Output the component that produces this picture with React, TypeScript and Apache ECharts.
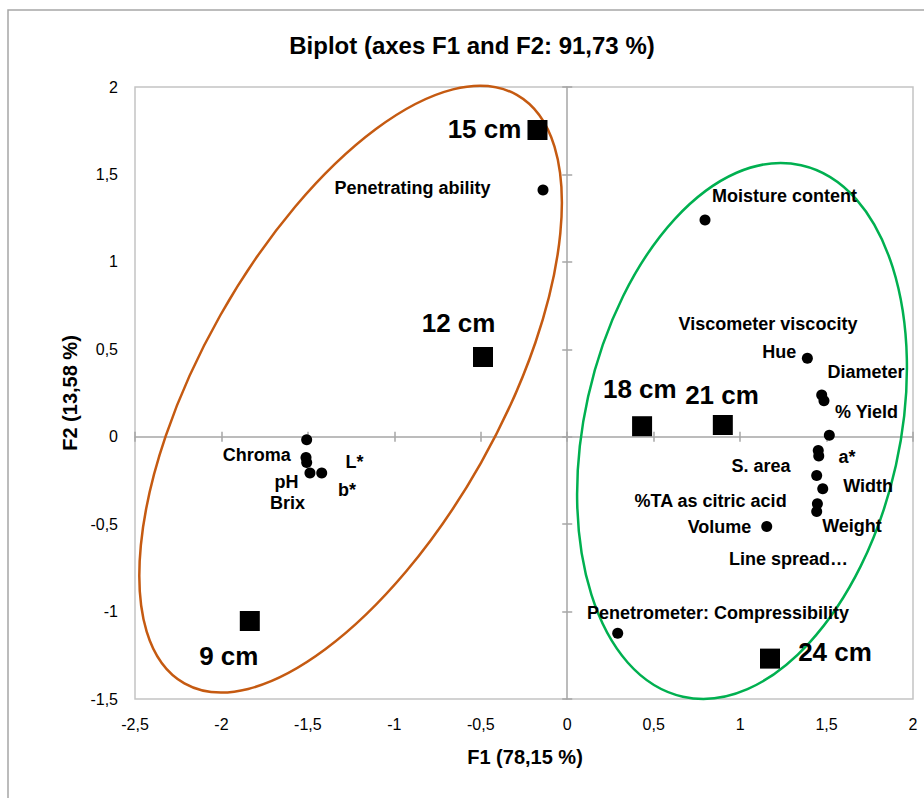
import { useEffect, useRef } from "react";
import * as echarts from "echarts";

// ---- Data ----
const variableNames = [
  "Penetrating ability",
  "Moisture content",
  "Viscometer viscocity",
  "Hue",
  "Diameter",
  "% Yield",
  "a*",
  "Line spread…",
  "S. area",
  "Width",
  "%TA as citric acid",
  "Weight",
  "Volume",
  "Penetrometer: Compressibility",
  "L*",
  "Chroma",
  "pH",
  "Brix",
  "b*",
];
const variableF1 = [
  -0.14, 0.797, 1.472, 1.389, 1.485, 1.516, 1.452, 1.455, 1.443, 1.478, 1.447,
  1.443, 1.154, 0.292, -1.507, -1.511, -1.507, -1.488, -1.42,
];
const variableF2 = [
  1.411, 1.24, 0.239, 0.449, 0.206, 0.009, -0.079, -0.11, -0.222, -0.298,
  -0.384, -0.428, -0.514, -1.124, -0.018, -0.119, -0.148, -0.207, -0.207,
];

const treatmentNames = ["9 cm", "12 cm", "15 cm", "18 cm", "21 cm", "24 cm"];
const treatmentF1 = [-1.836, -0.487, -0.172, 0.433, 0.9, 1.173];
const treatmentF2 = [-1.054, 0.456, 1.754, 0.06, 0.067, -1.269];

// Group ellipses (centre, semi-axes in axis units, tilt in degrees)
const ellipseCenterF1 = [-1.253, 1.011];
const ellipseCenterF2 = [0.272, 0.033];
const ellipseSemiMajor = [1.943, 1.566];
const ellipseSemiMinor = [0.861, 0.907];
const ellipseTilt = [29.45, 12.56];

const titleText = "Biplot (axes F1 and F2: 91,73 %)";
const xAxisTitle = "F1 (78,15 %)";
const yAxisTitle = "F2 (13,58 %)";

// ---- Layout / style (kept apart from the data) ----
const variableLabelOffsets: Record<string, [number, number]> = {
  "Penetrating ability": [-130.5, -2],
  "Moisture content": [79.5, -24.3],
  "Viscometer viscocity": [-53.7, -71],
  Hue: [-28, -6.3],
  Diameter: [42, -29],
  "% Yield": [37.2, -23.6],
  "a*": [28.7, 6],
  "Line spread…": [-30.2, 103.3],
  "S. area": [-55.7, -9.7],
  Width: [45.3, -3.3],
  "%TA as citric acid": [-106.8, -3.3],
  Weight: [35.3, 14.3],
  Volume: [-47.2, 0],
  "Penetrometer: Compressibility": [100.3, -20.6],
  "L*": [47.8, 21.7],
  Chroma: [-49.3, -2.7],
  pH: [-20.2, 19],
  Brix: [-22.5, 30.3],
  "b*": [25.3, 17],
};
const treatmentLabelOffsets: Record<string, [number, number]> = {
  "9 cm": [-21, 35],
  "12 cm": [-24.5, -34],
  "15 cm": [-53, -1.5],
  "18 cm": [-2.3, -37],
  "21 cm": [-0.8, -30],
  "24 cm": [65, -7],
};
const ellipseColors = ["#c55a11", "#00b050"];

const FONT = "'Liberation Sans', Arial, Helvetica, sans-serif";
const fmt = (v: number) => String(v).replace(".", ",");

const GRID = { left: 135, top: 87, width: 778, height: 612 };
const zeroLine = { color: "#a6a6a6", width: 1.5 };

function buildOption() {
  const xBase = { type: "value", min: -2.5, max: 2, interval: 0.5 };
  const yBase = { type: "value", min: -1.5, max: 2, interval: 0.5 };
  return {
    animation: false,
    backgroundColor: "#ffffff",
    grid: {
      ...GRID,
      show: true,
      borderColor: "#c4c4c4",
      borderWidth: 1.5,
      backgroundColor: "transparent",
    },
    xAxis: [
      {
        ...xBase,
        position: "bottom",
        axisLine: { show: false, onZero: false },
        axisTick: { show: false },
        splitLine: { show: false },
        axisLabel: {
          formatter: fmt,
          fontSize: 16,
          fontFamily: FONT,
          color: "#000",
          margin: 17,
        },
      },
      {
        ...xBase,
        position: "bottom",
        axisLine: { show: true, onZero: true, onZeroAxisIndex: 0, lineStyle: zeroLine },
        axisTick: { show: true, length: 5, lineStyle: zeroLine },
        axisLabel: { show: false },
        splitLine: { show: false },
      },
      {
        ...xBase,
        position: "bottom",
        axisLine: { show: false, onZero: true, onZeroAxisIndex: 0 },
        axisTick: { show: true, inside: true, length: 5, lineStyle: zeroLine },
        axisLabel: { show: false },
        splitLine: { show: false },
      },
    ],
    yAxis: [
      {
        ...yBase,
        position: "left",
        axisLine: { show: false, onZero: false },
        axisTick: { show: false },
        splitLine: { show: false },
        axisLabel: {
          formatter: fmt,
          fontSize: 16,
          fontFamily: FONT,
          color: "#000",
          margin: 17,
        },
      },
      {
        ...yBase,
        position: "left",
        axisLine: { show: true, onZero: true, onZeroAxisIndex: 0, lineStyle: zeroLine },
        axisTick: { show: true, length: 5, lineStyle: zeroLine },
        axisLabel: { show: false },
        splitLine: { show: false },
      },
      {
        ...yBase,
        position: "left",
        axisLine: { show: false, onZero: true, onZeroAxisIndex: 0 },
        axisTick: { show: true, inside: true, length: 5, lineStyle: zeroLine },
        axisLabel: { show: false },
        splitLine: { show: false },
      },
    ],
    graphic: [
      {
        type: "rect",
        silent: true,
        shape: { x: 8, y: 10, width: 1200, height: 1200 },
        style: { fill: "none", stroke: "#a6a6a6", lineWidth: 1.5 },
      },
      {
        type: "text",
        x: 472,
        y: 45,
        style: {
          text: titleText,
          fontSize: 24,
          fontWeight: "bold",
          fontFamily: FONT,
          fill: "#000",
          align: "center",
          verticalAlign: "middle",
        },
      },
      {
        type: "text",
        x: 525,
        y: 757,
        style: {
          text: xAxisTitle,
          fontSize: 20,
          fontWeight: "bold",
          fontFamily: FONT,
          fill: "#000",
          align: "center",
          verticalAlign: "middle",
        },
      },
      {
        type: "text",
        x: 70,
        y: 393,
        rotation: Math.PI / 2,
        style: {
          text: yAxisTitle,
          fontSize: 20,
          fontWeight: "bold",
          fontFamily: FONT,
          fill: "#000",
          align: "center",
          verticalAlign: "middle",
        },
      },
    ],
    series: [
      {
        type: "custom",
        xAxisIndex: 0,
        yAxisIndex: 0,
        silent: true,
        clip: false,
        z: 1,
        data: ellipseCenterF1.map((c, i) => [
          c,
          ellipseCenterF2[i],
          ellipseSemiMajor[i],
          ellipseSemiMinor[i],
          ellipseTilt[i],
        ]),
        renderItem: (params: any, api: any) => {
          const c = api.coord([api.value(0), api.value(1)]);
          const s = api.size([1, 1]);
          const k = (s[0] + s[1]) / 2;
          return {
            type: "ellipse",
            x: c[0],
            y: c[1],
            rotation: (-api.value(4) * Math.PI) / 180,
            shape: { cx: 0, cy: 0, rx: api.value(3) * k, ry: api.value(2) * k },
            style: {
              fill: "none",
              stroke: ellipseColors[params.dataIndex],
              lineWidth: 2.5,
            },
          };
        },
      },
      {
        type: "scatter",
        xAxisIndex: 0,
        yAxisIndex: 0,
        z: 3,
        symbol: "circle",
        symbolSize: 11,
        itemStyle: { color: "#000", opacity: 1 },
        label: {
          show: true,
          position: "inside",
          formatter: "{b}",
          color: "#000",
          fontSize: 18,
          fontWeight: "bold",
          fontFamily: FONT,
          align: "center",
          verticalAlign: "middle",
        },
        data: variableNames.map((n, i) => ({
          name: n,
          value: [variableF1[i], variableF2[i]],
          label: { offset: variableLabelOffsets[n] || [0, 0] },
        })),
      },
      {
        type: "scatter",
        xAxisIndex: 0,
        yAxisIndex: 0,
        z: 4,
        symbol: "rect",
        symbolSize: 20,
        itemStyle: { color: "#000", opacity: 1 },
        label: {
          show: true,
          position: "inside",
          formatter: "{b}",
          color: "#000",
          fontSize: 26,
          fontWeight: "bold",
          fontFamily: FONT,
          align: "center",
          verticalAlign: "middle",
        },
        data: treatmentNames.map((n, i) => ({
          name: n,
          value: [treatmentF1[i], treatmentF2[i]],
          label: { offset: treatmentLabelOffsets[n] || [0, 0] },
        })),
      },
    ],
  };
}

export default function App() {
  const ref = useRef<HTMLDivElement>(null);
  useEffect(() => {
    if (!ref.current) return;
    const chart = echarts.init(ref.current, null, { renderer: "svg" });
    chart.setOption(buildOption() as any);
    return () => chart.dispose();
  }, []);
  return (
    <div
      ref={ref}
      style={{
        position: "absolute",
        left: 0,
        top: 0,
        width: 924,
        height: 798,
        background: "#ffffff",
      }}
    />
  );
}
